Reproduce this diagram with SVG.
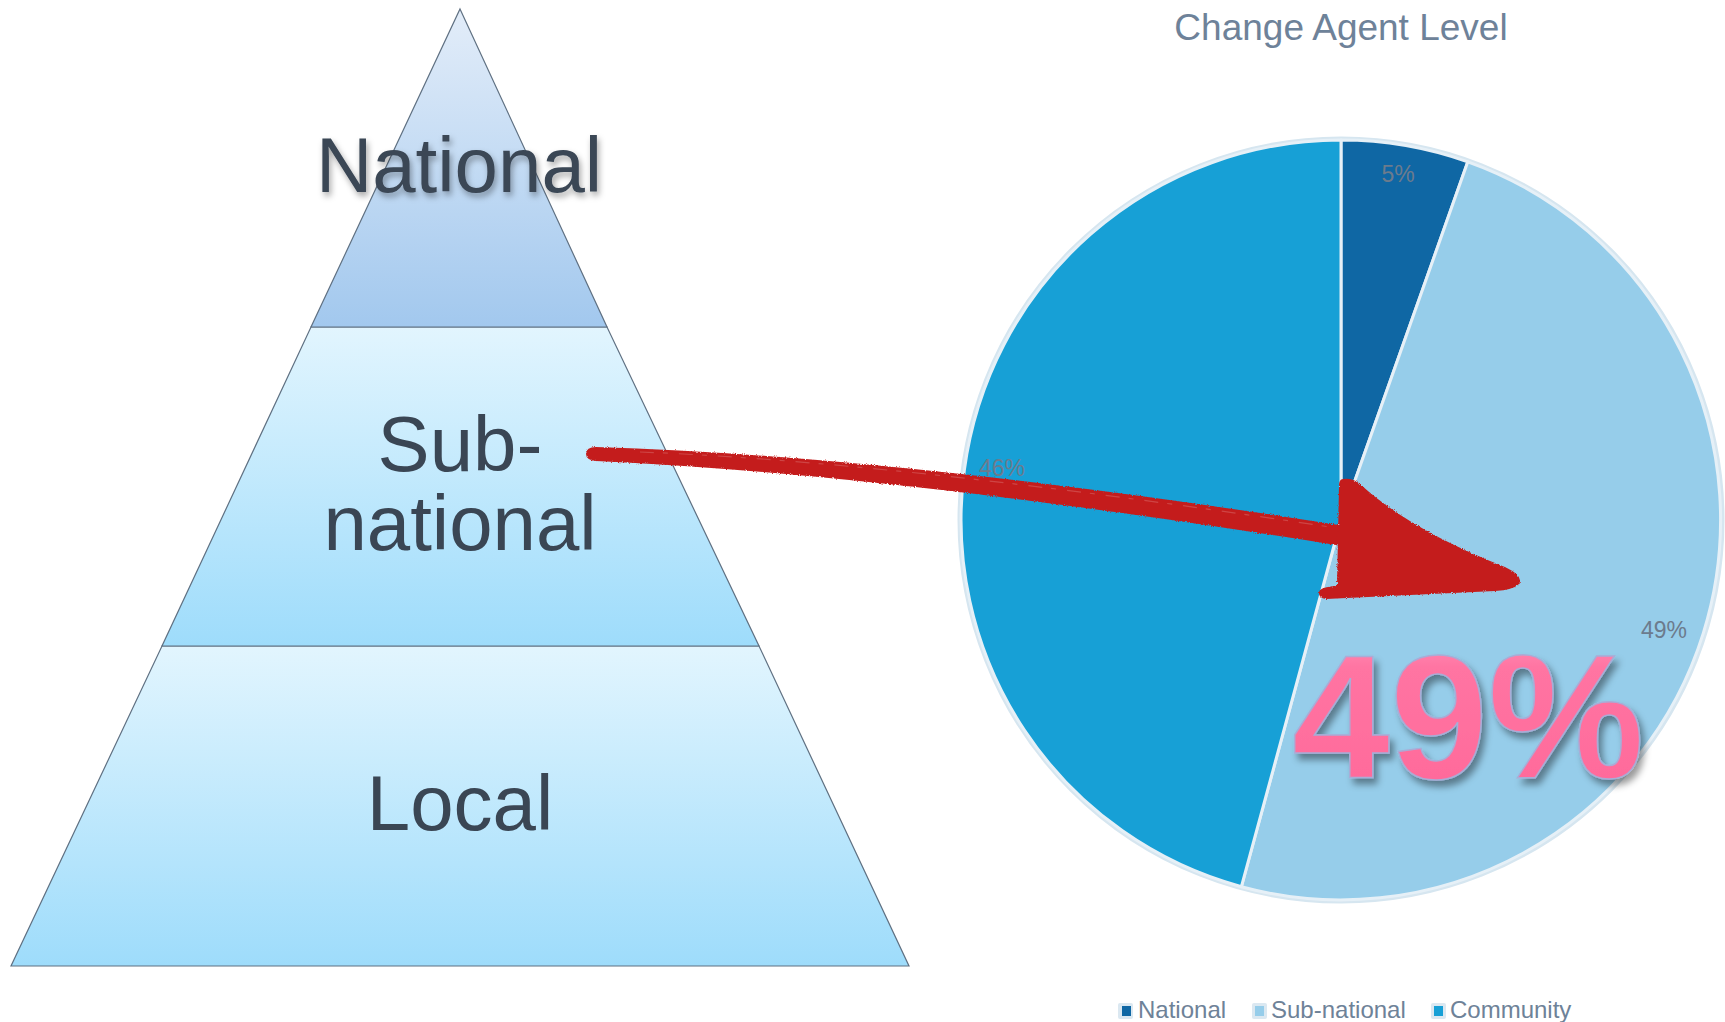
<svg xmlns="http://www.w3.org/2000/svg" width="1725" height="1022" viewBox="0 0 1725 1022">
  <style>
    text { font-family: "Liberation Sans", Arial, sans-serif; }
    .tier { stroke: #5f7082; stroke-width: 1.2; }
    .tierlabel { font-size: 78px; fill: #3a4654; text-anchor: middle; }
    .slice { stroke: #e6f0f7; stroke-width: 3; stroke-linejoin: round; }
    .pct { font-size: 23px; fill: #6c7b8d; text-anchor: middle; }
    .legend { font-size: 24px; fill: #6e8298; }
    .swatch-bg { fill: #dbe8f1; }
    .arrow { fill: #c41d1d; }
  </style>
  <defs>
    <linearGradient id="gTop" x1="0" y1="0" x2="0" y2="1">
      <stop offset="0" stop-color="#e3edf9"/>
      <stop offset="1" stop-color="#a2c8ee"/>
    </linearGradient>
    <linearGradient id="gMid" x1="0" y1="0" x2="0" y2="1">
      <stop offset="0" stop-color="#e2f5fe"/>
      <stop offset="1" stop-color="#9edcfb"/>
    </linearGradient>
    <linearGradient id="gPink" x1="0" y1="0" x2="0" y2="1">
      <stop offset="0" stop-color="#ff9dc0"/>
      <stop offset="0.25" stop-color="#ff74a2"/>
      <stop offset="1" stop-color="#ff6899"/>
    </linearGradient>
    <filter id="textShadow" x="-10%" y="-20%" width="120%" height="150%">
      <feDropShadow dx="2" dy="4" stdDeviation="3" flood-color="#000" flood-opacity="0.35"/>
    </filter>
    <filter id="bigShadow" x="-10%" y="-10%" width="125%" height="130%">
      <feDropShadow dx="4" dy="6" stdDeviation="3.5" flood-color="#000" flood-opacity="0.4"/>
    </filter>
    <filter id="rough" x="-5%" y="-20%" width="110%" height="140%">
      <feTurbulence type="fractalNoise" baseFrequency="0.9" numOctaves="2" seed="3" result="n"/>
      <feDisplacementMap in="SourceGraphic" in2="n" scale="3" xChannelSelector="R" yChannelSelector="G"/>
    </filter>
  </defs>

  <rect width="1725" height="1022" fill="#ffffff"/>

  <!-- Pyramid -->
  <g id="tier-local">
    <polygon class="tier" points="162,646 759,646 909,966 11,966" fill="url(#gMid)"/>
    <text class="tierlabel" x="460" y="830">Local</text>
  </g>
  <g id="tier-subnational">
    <polygon class="tier" points="311,327 607,327 759,646 162,646" fill="url(#gMid)"/>
    <text class="tierlabel" x="460" y="471">Sub-</text>
    <text class="tierlabel" x="460" y="550">national</text>
  </g>
  <g id="tier-national">
    <polygon class="tier" points="460,9 607,327 311,327" fill="url(#gTop)"/>
    <text class="tierlabel" x="459" y="192" filter="url(#textShadow)">National</text>
  </g>

  <!-- Pie chart -->
  <g id="chart-title">
    <text x="1341" y="40" font-size="37" fill="#6e8299" text-anchor="middle">Change Agent Level</text>
  </g>
  <g id="pie">
    <circle cx="1341" cy="520" r="381" fill="none" stroke="#d6e6f0" stroke-width="5"/>
    <g id="slice-national">
      <path class="slice" d="M1341,520 L1341,140 A380,380 0 0,1 1467.8,161.8 Z" fill="#0f67a4"/>
      <text class="pct" x="1398" y="182">5%</text>
    </g>
    <g id="slice-subnational">
      <path class="slice" d="M1341,520 L1467.8,161.8 A380,380 0 0,1 1241.4,886.7 Z" fill="#96cdea"/>
      <text class="pct" x="1664" y="638">49%</text>
    </g>
    <g id="slice-community">
      <path class="slice" d="M1341,520 L1241.4,886.7 A380,380 0 0,1 1341,140 Z" fill="#17a0d6"/>
      <text class="pct" x="1002" y="476">46%</text>
    </g>
  </g>

  <!-- Legend -->
  <g id="legend">
    <g id="legend-national">
      <rect class="swatch-bg" x="1118" y="1003" width="15" height="16" rx="2"/>
      <rect x="1122" y="1006" width="9" height="10" fill="#0f67a4"/>
      <text class="legend" x="1138" y="1018">National</text>
    </g>
    <g id="legend-subnational">
      <rect class="swatch-bg" x="1252" y="1003" width="15" height="16" rx="2"/>
      <rect x="1255" y="1006" width="9" height="10" fill="#96cdea"/>
      <text class="legend" x="1271" y="1018">Sub-national</text>
    </g>
    <g id="legend-community">
      <rect class="swatch-bg" x="1431" y="1003" width="15" height="16" rx="2"/>
      <rect x="1434" y="1006" width="9" height="10" fill="#17a0d6"/>
      <text class="legend" x="1450" y="1018">Community</text>
    </g>
  </g>

  <!-- Connector: hand-drawn red arrow -->
  <g id="connectors">
    <g filter="url(#rough)">
      <path class="arrow" d="M596,447 Q900,456 1345,526 L1342,546 Q900,475 596,461 Q586,460 586,454 Q586,447 596,447 Z"/>
      <path class="arrow" d="M1343,479 Q1353,478 1360,484 Q1410,530 1505,567 Q1524,576 1519,584 Q1513,590 1495,591 L1326,599 Q1318,598 1319,592 Q1320,587 1337,586 L1339,486 Q1339,479 1343,479 Z"/>
    </g>
    <path d="M640,452 Q900,462 1330,527" fill="none" stroke="#ffffff" stroke-opacity="0.18" stroke-width="1.2" stroke-dasharray="14 9 5 11"/>
  </g>

  <!-- Highlight value -->
  <g id="highlight-49">
    <text x="1292" y="778" font-size="176" font-weight="bold" fill="url(#gPink)" stroke="#a9acd6" stroke-width="1.5" filter="url(#bigShadow)">49%</text>
  </g>
</svg>
